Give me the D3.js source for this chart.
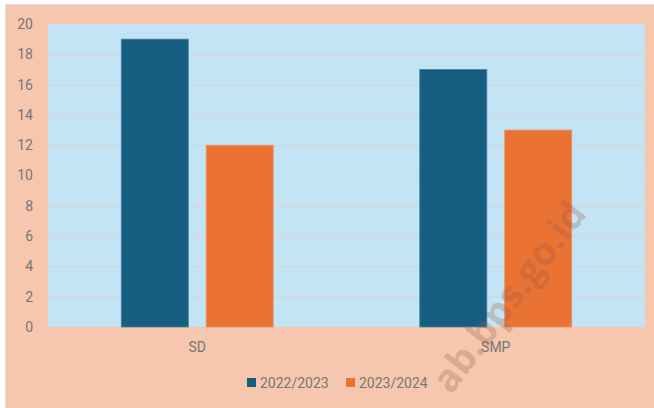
<!DOCTYPE html>
<html>
<head>
<meta charset="utf-8">
<script src="https://cdn.jsdelivr.net/npm/d3@7"></script>
<style>
  body { margin: 0; background: #fff; }
  text { font-family: Roboto, "Liberation Sans", sans-serif; }
</style>
</head>
<body>
<div id="chart"></div>
<script>
const categories = ["SD", "SMP"];
const seriesNames = ["2022/2023", "2023/2024"];
const values2022 = [19, 17];
const values2023 = [12, 13];
const yTicks = [0, 2, 4, 6, 8, 10, 12, 14, 16, 18, 20];
const colors = ["#155E80", "#EA7333"];

const W = 654, H = 408;
const plot = {left: 48, right: 645, top: 24, bottom: 327};

const svg = d3.select("#chart").append("svg")
    .attr("width", W)
    .attr("height", H);

// chart background
svg.append("rect")
    .attr("x", 5.5).attr("y", 4.5)
    .attr("width", W - 5).attr("height", H - 4)
    .attr("fill", "#F6C7AE")
    .attr("stroke", "#e2e2e2");

svg.append("rect")
    .attr("x", plot.left).attr("y", plot.top)
    .attr("width", plot.right - plot.left)
    .attr("height", plot.bottom - plot.top)
    .attr("fill", "#C2E4F4");

const x0 = d3.scaleBand()
    .domain(categories)
    .range([plot.left, plot.right]);

const x1 = d3.scaleBand()
    .domain(seriesNames)
    .range([0, 152])
    .paddingInner(0.21);

const y = d3.scaleLinear()
    .domain([0, 20])
    .range([plot.bottom, plot.top]);

// gridlines
svg.append("g")
    .selectAll("line")
    .data(yTicks.filter(d => d > 0 && d < 20))
    .join("line")
    .attr("x1", plot.left).attr("x2", plot.right)
    .attr("y1", d => y(d) + 0.5).attr("y2", d => y(d) + 0.5)
    .attr("stroke", "#D6D6D6")
    .attr("stroke-width", 1.2);

// y axis labels
const yAxis = svg.append("g")
    .attr("transform", `translate(${plot.left}, 0)`)
    .call(d3.axisLeft(y).tickValues(yTicks).tickSize(0).tickPadding(15));
yAxis.select(".domain").remove();
yAxis.selectAll("text")
    .attr("fill", "#767676")
    .style("font-size", "14px")
    .style("font-family", "Roboto, sans-serif");

const data = categories.map((c, i) => ({
    cat: c,
    vals: [
        {name: seriesNames[0], value: values2022[i]},
        {name: seriesNames[1], value: values2023[i]}
    ]
}));

const groups = svg.append("g")
    .selectAll("g")
    .data(data)
    .join("g")
    .attr("transform", d => `translate(${x0(d.cat) + x0.bandwidth() / 2 - 76}, 0)`);

groups.selectAll("rect")
    .data(d => d.vals)
    .join("rect")
    .attr("x", d => x1(d.name))
    .attr("y", d => y(d.value))
    .attr("width", x1.bandwidth())
    .attr("height", d => y(0) - y(d.value))
    .attr("fill", (d, i) => colors[i])
    .attr("stroke", (d, i) => i === 0 ? "#4A82A0" : "#EE9466")
    .attr("stroke-width", 0.8);

// category labels
svg.append("g")
    .selectAll("text")
    .data(categories)
    .join("text")
    .attr("x", d => x0(d) + x0.bandwidth() / 2)
    .attr("y", 352)
    .attr("text-anchor", "middle")
    .attr("fill", "#767676")
    .style("font-size", "14px")
    .text(d => d);

// legend
const legend = svg.append("g")
    .selectAll("g")
    .data(seriesNames)
    .join("g")
    .attr("transform", (d, i) => `translate(${247 + i * 99}, 378)`);

legend.append("rect")
    .attr("width", 9).attr("height", 9)
    .attr("fill", (d, i) => colors[i]);

legend.append("text")
    .attr("x", 13)
    .attr("y", 9.5)
    .attr("fill", "#767676")
    .style("font-size", "14px")
    .text(d => d);

// watermark
svg.append("text")
    .attr("transform", "translate(588, 214) rotate(-53)")
    .attr("text-anchor", "end")
    .attr("fill", "#9a5a48")
    .attr("fill-opacity", 0.3)
    .style("font-size", "38px")
    .style("font-weight", "bold")
    .style("font-family", "\"Open Sans\", sans-serif")
    .text("ab.bps.go.id");
</script>
</body>
</html>
